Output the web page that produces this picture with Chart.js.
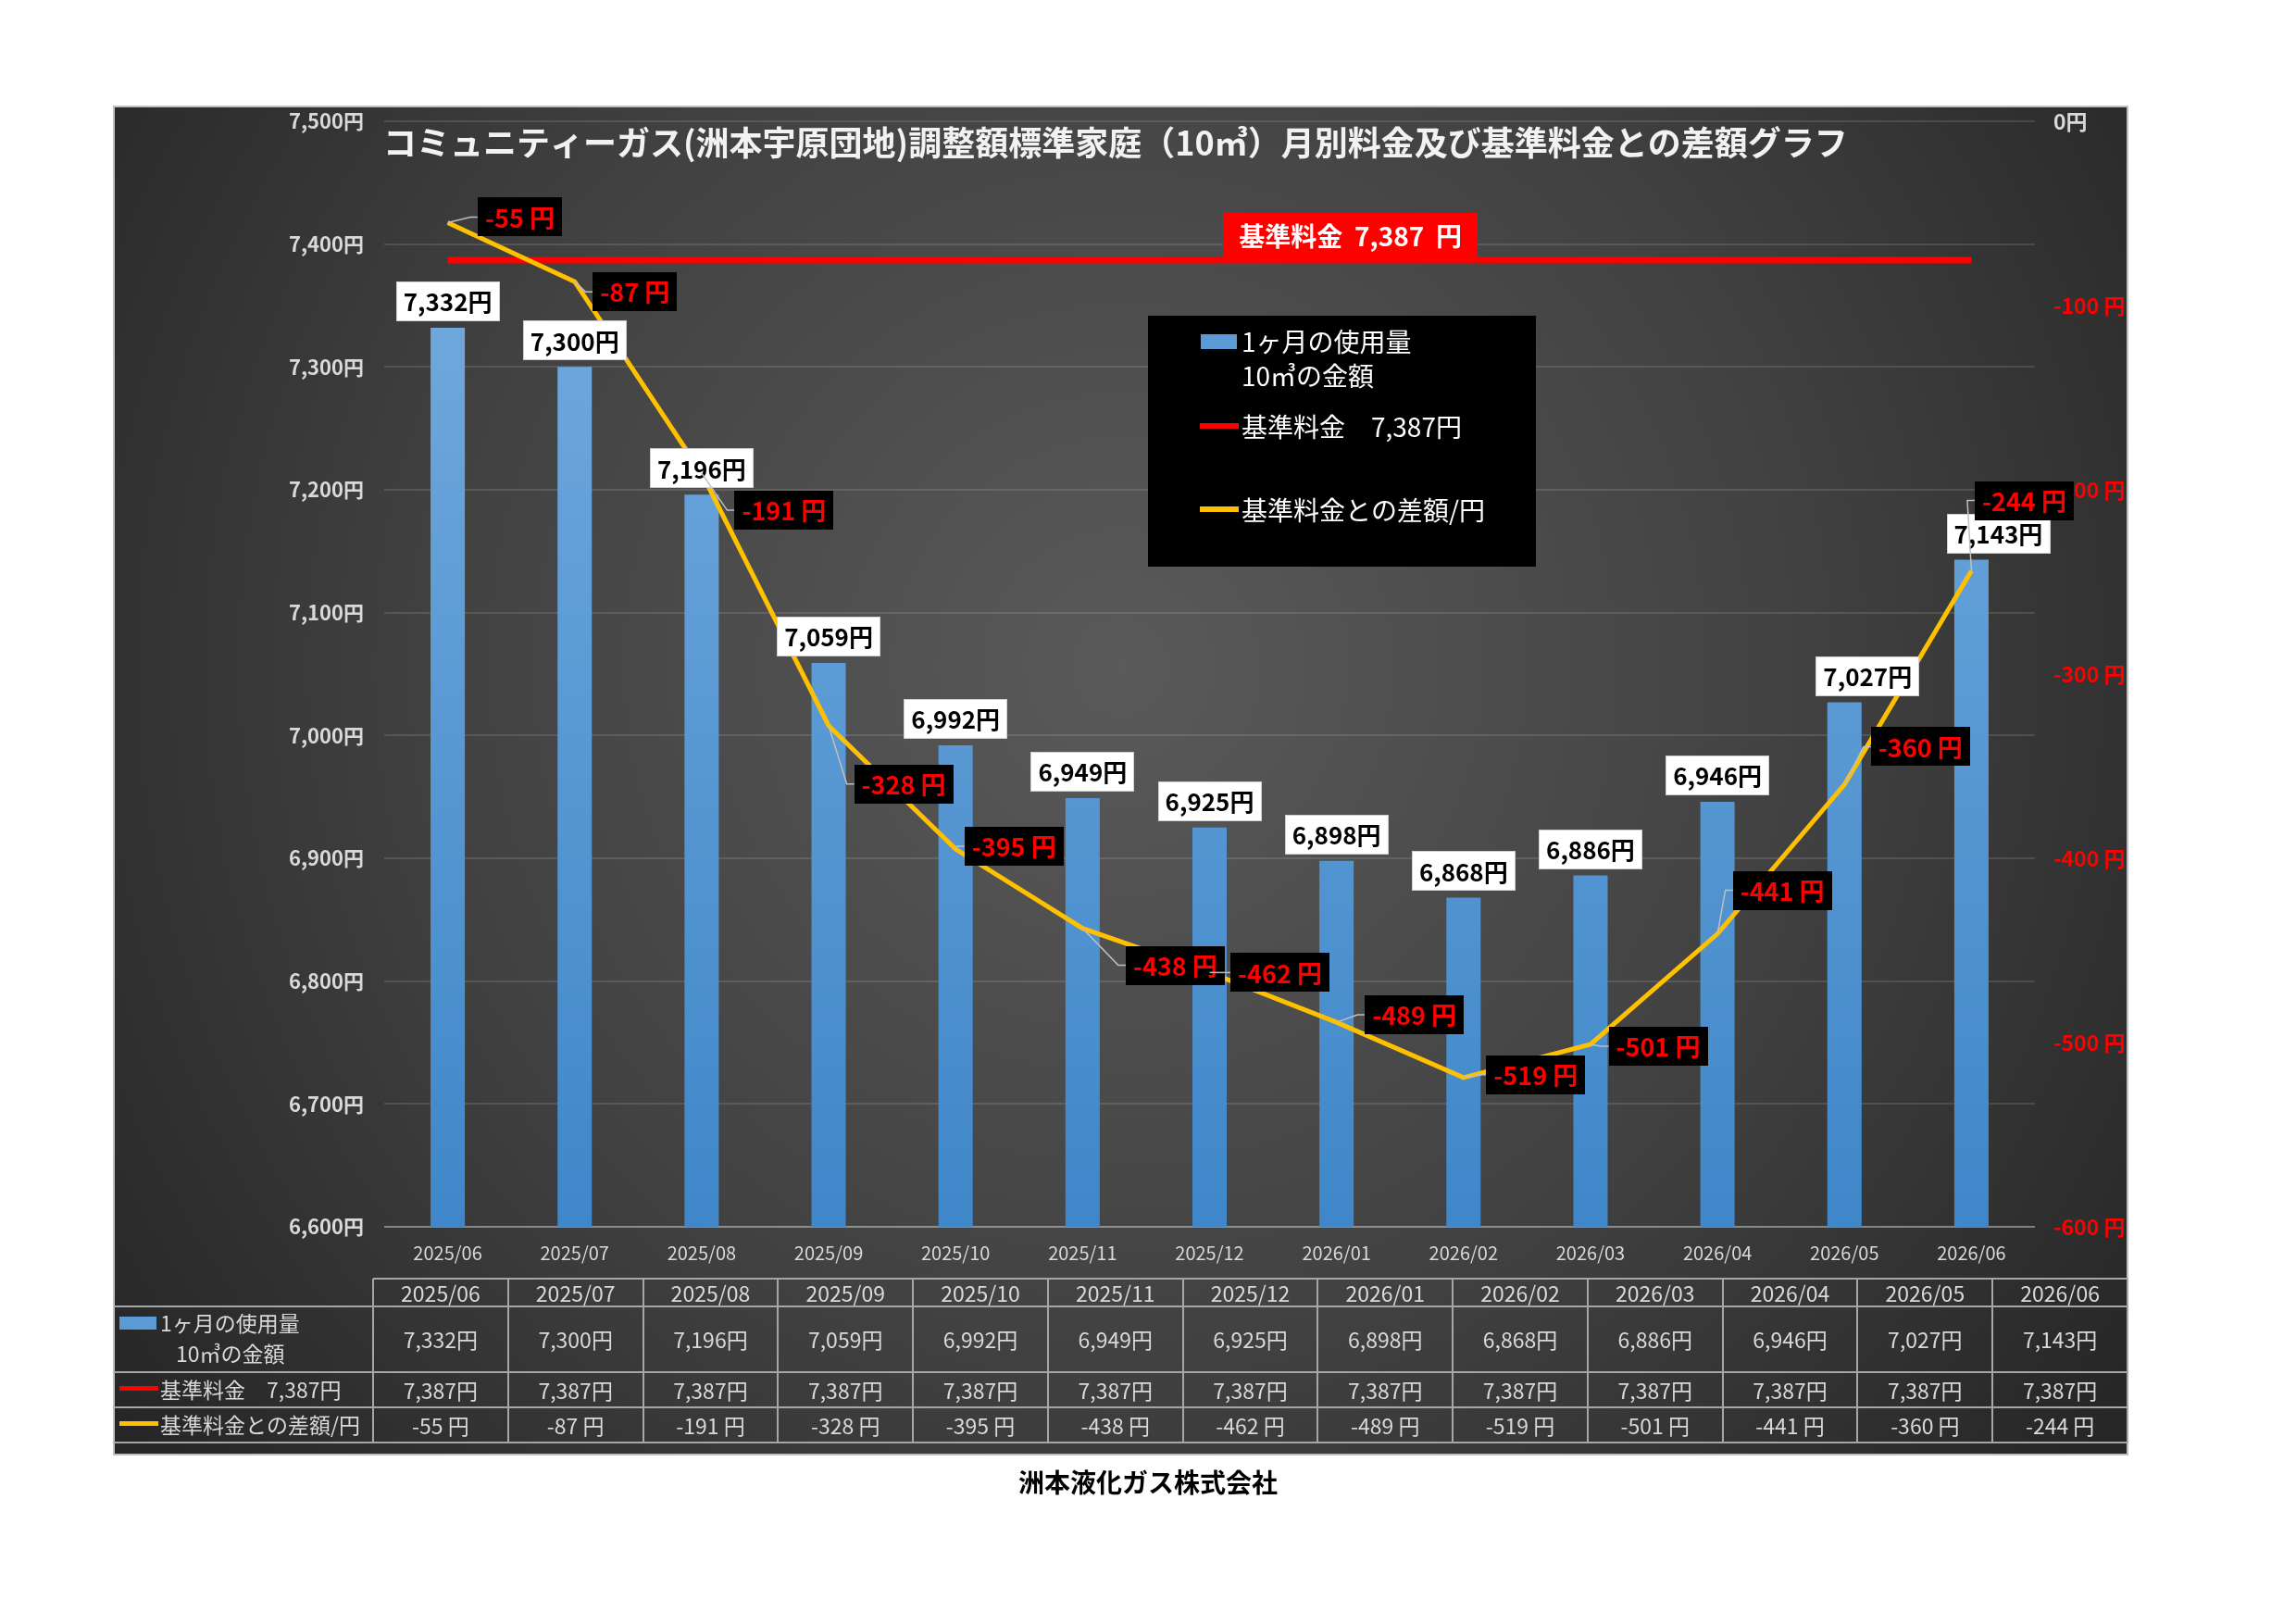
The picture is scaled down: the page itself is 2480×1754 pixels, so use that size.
<!DOCTYPE html>
<html><head><meta charset="utf-8">
<script src="https://cdn.jsdelivr.net/npm/chart.js@4/dist/chart.umd.min.js"></script>
<style>html,body{margin:0;padding:0;background:#fff;}canvas{display:block;}</style>
</head><body>
<canvas id="c" width="2480" height="1754" style="width:2480px;height:1754px"></canvas>
<script>
const categories = ['2025/06','2025/07','2025/08','2025/09','2025/10','2025/11','2025/12','2026/01','2026/02','2026/03','2026/04','2026/05','2026/06'];
const monthlyCharge = [7332,7300,7196,7059,6992,6949,6925,6898,6868,6886,6946,7027,7143];
const baseCharge = [7387,7387,7387,7387,7387,7387,7387,7387,7387,7387,7387,7387,7387];
const diffFromBase = [-55,-87,-191,-328,-395,-438,-462,-489,-519,-501,-441,-360,-244];
const chartTitle = 'コミュニティーガス(洲本宇原団地)調整額標準家庭（10㎥）月別料金及び基準料金との差額グラフ';
const seriesNameBar = ['1ヶ月の使用量','10㎥の金額'];
const seriesNameBase = '基準料金　7,387円';
const seriesNameDiff = '基準料金との差額/円';
const baseLabelText = '基準料金  7,387  円';
const footerText = '洲本液化ガス株式会社';

// label placement nudges in px (styling only)
const diffLabelNudge = [[78,-6],[65,11],[89,40],[81,63],[63,-3],[100,40],[76,0],[84,-8],[78,-3],[73,2],[70,-47],[82,-41],[57,-76]];
const barLabelNudge = [0,0,0,0,0,0,0,0,0,0,0,25,29];

const FONT = '"Noto Sans CJK JP","Noto Sans",sans-serif';
const P = {l:123, t:115, r:2298, b:1571};
const fmt = v => v.toLocaleString('en-US');

function box(ctx, cx, cy, w, h, fill) {
  ctx.fillStyle = fill;
  ctx.fillRect(Math.round(cx - w/2), Math.round(cy - h/2), Math.round(w), Math.round(h));
}

const decor = {
  id: 'decor',
  beforeDraw(chart) {
    const ctx = chart.ctx;
    ctx.save();
    ctx.fillStyle = '#ffffff';
    ctx.fillRect(0, 0, chart.width, chart.height);
    const g = ctx.createRadialGradient(1210, 720, 0, 1210, 720, 1350);
    g.addColorStop(0, '#5a5a5a');
    g.addColorStop(0.55, '#414141');
    g.addColorStop(1, '#262626');
    ctx.fillStyle = g;
    ctx.fillRect(P.l, P.t, P.r - P.l, P.b - P.t);
    ctx.restore();
  },
  afterDatasetsDraw(chart) {
    const ctx = chart.ctx;
    ctx.save();
    ctx.textAlign = 'center';
    ctx.textBaseline = 'middle';
    // base line label
    const bm = chart.getDatasetMeta(1).data[7];
    ctx.font = '700 28px ' + FONT;
    const bw = ctx.measureText(baseLabelText).width + 34;
    const bcx = bm.x + 15, bcy = bm.y - 27;
    box(ctx, bcx, bcy, bw, 48, '#ff0000');
    ctx.fillStyle = '#ffffff';
    ctx.fillText(baseLabelText, bcx, bcy + 1);

    // bar labels
    const meta0 = chart.getDatasetMeta(0);
    ctx.font = '700 26px ' + FONT;
    meta0.data.forEach((el, i) => {
      const t = fmt(monthlyCharge[i]) + '円';
      const w = ctx.measureText(t).width + 16, h = 43;
      const cx = el.x + barLabelNudge[i], cy = el.y - 7 - h/2;
      box(ctx, cx, cy, w, h, '#ffffff');
      ctx.strokeStyle = '#d0d0d0'; ctx.lineWidth = 1;
      ctx.strokeRect(Math.round(cx - w/2) + 0.5, Math.round(cy - h/2) + 0.5, Math.round(w) - 1, h - 1);
      ctx.fillStyle = '#000000';
      ctx.fillText(t, cx, cy + 1);
    });

    // diff labels
    const meta2 = chart.getDatasetMeta(2);
    ctx.font = '700 27px ' + FONT;
    meta2.data.forEach((el, i) => {
      const t = diffFromBase[i] + ' 円';
      const w = ctx.measureText(t).width + 16, h = 42;
      const cx = el.x + diffLabelNudge[i][0], cy = el.y + diffLabelNudge[i][1];
      ctx.strokeStyle = '#bfbfbf'; ctx.lineWidth = 1.5;
      ctx.beginPath();
      ctx.moveTo(el.x, el.y);
      ctx.lineTo(cx - w/2 - 8, cy);
      ctx.lineTo(cx - w/2, cy);
      ctx.stroke();
      box(ctx, cx, cy, w, h, '#000000');
      ctx.fillStyle = '#ff0000';
      ctx.fillText(t, cx, cy + 1);
    });
    ctx.restore();
  },
  afterDraw(chart) {
    const ctx = chart.ctx;
    ctx.save();
    // border
    ctx.strokeStyle = '#bfbfbf'; ctx.lineWidth = 2;
    ctx.strokeRect(P.l, P.t, P.r - P.l, P.b - P.t);

    // title
    ctx.fillStyle = '#f2f2f2';
    ctx.font = '700 36px ' + FONT;
    ctx.textAlign = 'left'; ctx.textBaseline = 'middle';
    ctx.fillText(chartTitle, 414, 154);

    // legend
    ctx.fillStyle = '#000000';
    ctx.fillRect(1240, 341, 419, 271);
    ctx.font = '400 28px ' + FONT;
    ctx.fillStyle = '#5b9bd5';
    ctx.fillRect(1297, 361, 39, 16);
    ctx.fillStyle = '#ffffff';
    ctx.fillText(seriesNameBar[0], 1341, 369);
    ctx.fillText(seriesNameBar[1], 1341, 406);
    ctx.fillStyle = '#ff0000';
    ctx.fillRect(1296, 457, 42, 6);
    ctx.fillStyle = '#ffffff';
    ctx.fillText(seriesNameBase, 1341, 461);
    ctx.fillStyle = '#ffc000';
    ctx.fillRect(1296, 547, 42, 6);
    ctx.fillStyle = '#ffffff';
    ctx.fillText(seriesNameDiff, 1341, 551);

    // data table
    const x0 = 403, cw = (P.r - x0) / categories.length;
    const ry = [1381, 1411, 1482, 1520, 1558];
    ctx.strokeStyle = '#a6a6a6'; ctx.lineWidth = 2;
    ctx.beginPath();
    ctx.moveTo(x0, ry[0]); ctx.lineTo(P.r, ry[0]);
    for (let r = 1; r < ry.length; r++) { ctx.moveTo(P.l, ry[r]); ctx.lineTo(P.r, ry[r]); }
    for (let c = 0; c <= categories.length; c++) {
      const x = Math.round(x0 + c * cw);
      ctx.moveTo(x, ry[0]); ctx.lineTo(x, ry[4]);
    }
    ctx.stroke();
    ctx.fillStyle = '#d9d9d9';
    ctx.font = '400 23px ' + FONT;
    ctx.textAlign = 'center';
    categories.forEach((c, i) => {
      const cx = x0 + (i + 0.5) * cw;
      ctx.fillText(c, cx, 1397);
      ctx.fillText(fmt(monthlyCharge[i]) + '円', cx, 1447);
      ctx.fillText(fmt(baseCharge[i]) + '円', cx, 1502);
      ctx.fillText(diffFromBase[i] + ' 円', cx, 1540);
    });
    // row headers
    ctx.textAlign = 'left';
    ctx.font = '400 23px ' + FONT;
    ctx.fillStyle = '#5b9bd5'; ctx.fillRect(129, 1422, 40, 14);
    ctx.fillStyle = '#d9d9d9';
    ctx.fillText(seriesNameBar[0], 173, 1429);
    ctx.fillText(seriesNameBar[1], 190, 1462);
    ctx.fillStyle = '#ff0000'; ctx.fillRect(129, 1497, 42, 5);
    ctx.fillStyle = '#d9d9d9';
    ctx.fillText(seriesNameBase, 173, 1501);
    ctx.fillStyle = '#ffc000'; ctx.fillRect(129, 1535, 42, 5);
    ctx.fillStyle = '#d9d9d9';
    ctx.fillText(seriesNameDiff, 173, 1539);

    // footer
    ctx.fillStyle = '#000000';
    ctx.font = '700 28px ' + FONT;
    ctx.textAlign = 'center';
    ctx.fillText(footerText, 1240, 1601);
    ctx.restore();
  }
};

const ctx = document.getElementById('c').getContext('2d');
new Chart(ctx, {
  data: {
    labels: categories,
    datasets: [
      {
        type: 'bar', label: seriesNameBar.join(''), data: monthlyCharge, yAxisID: 'y', order: 3,
        backgroundColor: (c) => {
          const a = c.chart.chartArea;
          if (!a) return '#5b9bd5';
          const g = c.chart.ctx.createLinearGradient(0, a.top + 200, 0, a.bottom);
          g.addColorStop(0, '#6fa8dc');
          g.addColorStop(1, '#3f87c9');
          return g;
        },
        barPercentage: 0.9, categoryPercentage: 0.3
      },
      {
        type: 'line', label: seriesNameBase, data: baseCharge, yAxisID: 'y', order: 1,
        borderColor: '#ff0000', borderWidth: 7, pointRadius: 0, tension: 0, fill: false
      },
      {
        type: 'line', label: seriesNameDiff, data: diffFromBase, yAxisID: 'y1', order: 0,
        borderColor: '#ffc000', borderWidth: 5, pointRadius: 0, tension: 0, fill: false
      }
    ]
  },
  options: {
    responsive: false, animation: false, devicePixelRatio: 1,
    layout: { padding: { left: P.l, right: 2480 - P.r, top: 131, bottom: 0 } },
    plugins: { legend: { display: false }, tooltip: { enabled: false }, title: { display: false } },
    scales: {
      x: {
        type: 'category', offset: true,
        grid: { display: false, drawTicks: false }, border: { display: false },
        ticks: { color: '#d9d9d9', font: { family: FONT, size: 20 }, padding: 16, maxRotation: 0 },
        afterFit: s => { s.height = 1754 - 1325; }
      },
      y: {
        position: 'left', min: 6600, max: 7500,
        ticks: { stepSize: 100, color: '#d9d9d9', font: { family: FONT, size: 22, weight: '600' }, padding: 22,
          callback: v => fmt(v) + '円' },
        grid: { drawTicks: false, lineWidth: 2,
          color: c => c.tick && c.tick.value === 6600 ? 'rgba(255,255,255,0.4)' : 'rgba(255,255,255,0.12)' },
        border: { display: false },
        afterFit: s => { s.width = 415 - P.l; }
      },
      y1: {
        position: 'right', min: -600, max: 0,
        ticks: { stepSize: 100, font: { family: FONT, size: 23, weight: '600' }, padding: 20,
          color: c => c.tick && c.tick.value === 0 ? '#d9d9d9' : '#ff0000',
          callback: v => v === 0 ? '0円' : v + ' 円' },
        grid: { display: false, drawTicks: false },
        border: { display: false },
        afterFit: s => { s.width = P.r - 2198; }
      }
    }
  },
  plugins: [decor]
});
</script>
</body></html>
